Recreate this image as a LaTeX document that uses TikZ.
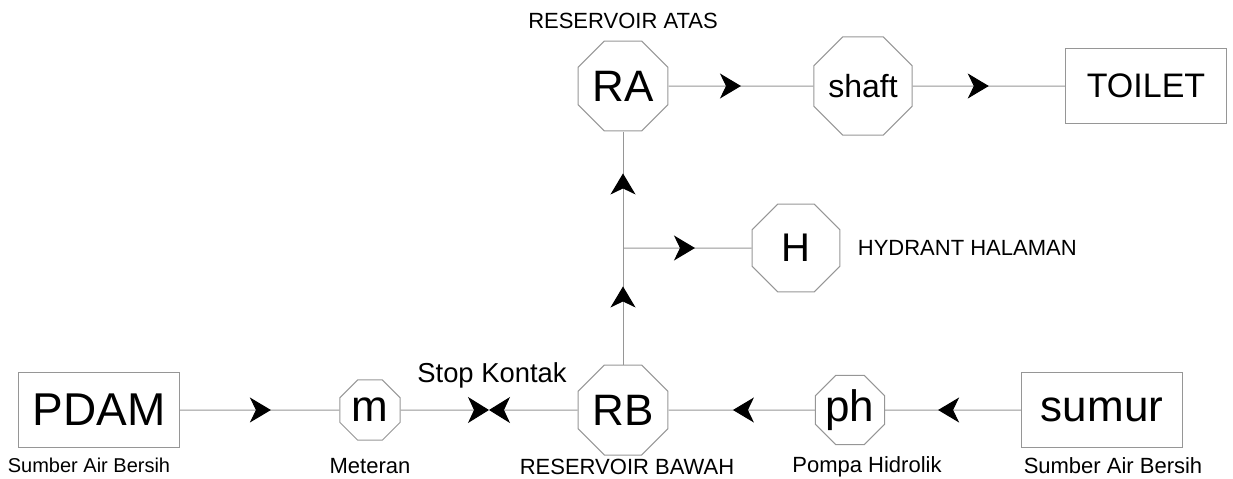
\documentclass[tikz,border=0pt]{standalone}
\usepackage{fontspec}
\setmainfont{Liberation Sans}
\usetikzlibrary{shapes.geometric, arrows.meta, positioning, decorations.markings}
\definecolor{pipeGray}{RGB}{150,150,150}

\begin{document}
\begin{tikzpicture}[
    x=0.5pt, y=-0.5pt,
    tank/.style={regular polygon, regular polygon sides=8, draw=pipeGray, line width=0.5pt, inner sep=0pt, minimum size=48.7pt, font=\fontsize{22}{24}\selectfont},
    valve/.style={tank, minimum size=32.5pt},
    box/.style={rectangle, draw=pipeGray, line width=0.5pt, minimum width=80.5pt, minimum height=37.5pt, inner sep=0pt, font=\fontsize{23}{26}\selectfont},
    caption/.style={inner sep=0pt, font=\fontsize{11}{13}\selectfont},
    pipe/.style={draw=pipeGray, line width=0.5pt},
    tip/.style={pipe, -{Stealth[length=10.5pt, width=13pt, inset=3pt, color=black]}},
    flow/.style={pipe, decoration={markings, mark=at position #1 with {\arrow{Stealth[length=10.5pt, width=12.5pt, inset=3pt, color=black]}}}, postaction={decorate}}
]
    \useasboundingbox (0,0) rectangle (1233,478);

    % Lower line: sources, meter, pump and lower reservoir
    \node[box] (pdam) at (99,410) {PDAM};
    \node[valve] (meter) at (370,410) {m};
    \coordinate (stop) at (489,410);
    \node[tank] (rb) at (623,410) {RB};
    \node[valve] (pump) at (850,410) {ph};
    \node[box, font=\fontsize{22}{24}\selectfont] (well) at (1102,410) {sumur};

    % Upper line and hydrant
    \coordinate (tee) at (623,248);
    \node[tank, minimum size=47.6pt, font=\fontsize{20}{22}\selectfont] (hyd) at (796,248) {H};
    \node[tank] (ra) at (623,86) {RA};
    \node[tank, font=\fontsize{16}{18}\selectfont] (shaft) at (863,86) {shaft};
    \node[box, font=\fontsize{17}{20}\selectfont] (toilet) at (1146,86) {TOILET};

    % Captions
    \node[caption, font=\fontsize{10}{12}\selectfont, below=5pt of pdam, xshift=-5pt] (pdamlbl) {Sumber Air Bersih};
    \node[caption, below=8.5pt of meter] (meterlbl) {Meteran};
    \node[caption, font=\fontsize{13.7}{16}\selectfont, above=10.5pt of stop, xshift=1.5pt] (stoplbl) {Stop Kontak};
    \node[caption, below=1.5pt of rb, xshift=2pt] (rblbl) {RESERVOIR BAWAH};
    \node[caption, below=5.5pt of pump, xshift=8.5pt] (pumplbl) {Pompa Hidrolik};
    \node[caption, below=4.5pt of well, xshift=5.5pt] (welllbl) {Sumber Air Bersih};
    \node[caption, above=5.5pt of ra] (ralbl) {RESERVOIR ATAS};
    \node[caption, right=8.5pt of hyd] (hydlbl) {HYDRANT HALAMAN};

    % Pipes
    \draw[flow=0.57] (pdam) -- (meter);
    \draw[tip] (meter) -- (stop);
    \draw[tip] (rb) -- (stop);
    \draw[flow=0.56] (pump) -- (rb);
    \draw[flow=0.61] (well) -- (pump);
    \draw[flow=0.67] (rb) -- (tee);
    \draw[flow=0.64] (tee) -- (ra);
    \draw[flow=0.56] (tee) -- (hyd);
    \draw[flow=0.5] (ra) -- (shaft);
    \draw[flow=0.5] (shaft) -- (toilet);
\end{tikzpicture}
\end{document}
